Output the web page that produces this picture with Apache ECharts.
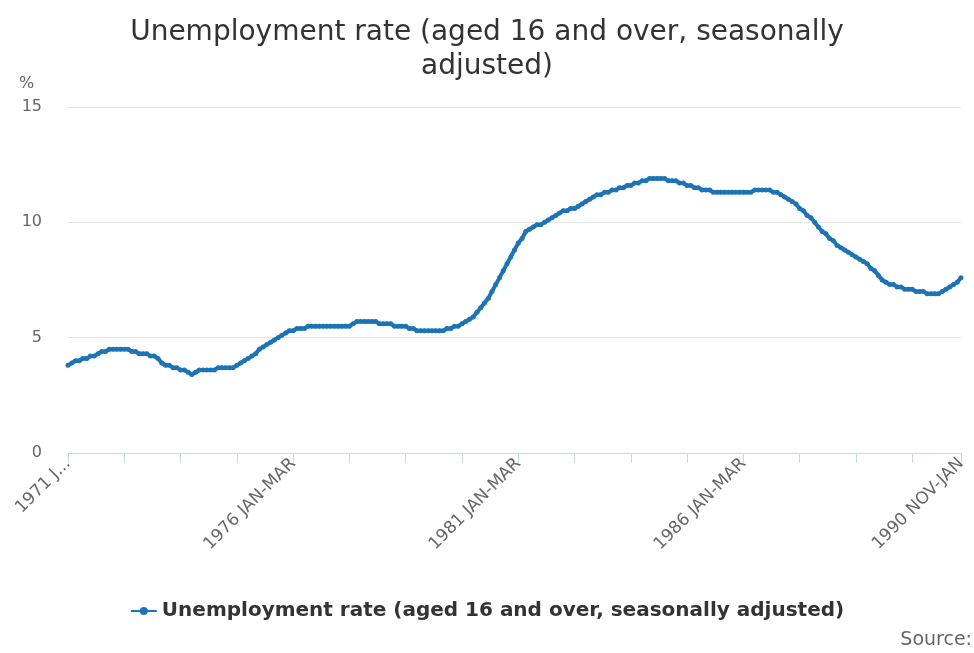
<!DOCTYPE html>
<html>
<head>
<meta charset="utf-8">
<script src="https://cdn.jsdelivr.net/npm/echarts@6/dist/echarts.min.js"></script>
<style>
html,body{margin:0;padding:0;background:#fff;}
#chart{width:974px;height:653px;}
</style>
</head>
<body>
<div id="chart"></div>
<script>
const monthNames = ['JAN','FEB','MAR','APR','MAY','JUN','JUL','AUG','SEP','OCT','NOV','DEC'];
const startYear = 1971;
const pointCount = 239;
const categories = [];
for (let i = 0; i < pointCount; i++) {
  const m = i % 12;
  const y = startYear + Math.floor(i / 12);
  categories.push(y + ' ' + monthNames[m] + '-' + monthNames[(m + 2) % 12]);
}
const seriesName = 'Unemployment rate (aged 16 and over, seasonally adjusted)';
const unemploymentRate = [
  // 1971
  3.8, 3.9, 4.0, 4.0, 4.1, 4.1, 4.2, 4.2, 4.3, 4.4, 4.4, 4.5,
  // 1972
  4.5, 4.5, 4.5, 4.5, 4.5, 4.4, 4.4, 4.3, 4.3, 4.3, 4.2, 4.2,
  // 1973
  4.1, 3.9, 3.8, 3.8, 3.7, 3.7, 3.6, 3.6, 3.5, 3.4, 3.5, 3.6,
  // 1974
  3.6, 3.6, 3.6, 3.6, 3.7, 3.7, 3.7, 3.7, 3.7, 3.8, 3.9, 4.0,
  // 1975
  4.1, 4.2, 4.3, 4.5, 4.6, 4.7, 4.8, 4.9, 5.0, 5.1, 5.2, 5.3,
  // 1976
  5.3, 5.4, 5.4, 5.4, 5.5, 5.5, 5.5, 5.5, 5.5, 5.5, 5.5, 5.5,
  // 1977
  5.5, 5.5, 5.5, 5.5, 5.6, 5.7, 5.7, 5.7, 5.7, 5.7, 5.7, 5.6,
  // 1978
  5.6, 5.6, 5.6, 5.5, 5.5, 5.5, 5.5, 5.4, 5.4, 5.3, 5.3, 5.3,
  // 1979
  5.3, 5.3, 5.3, 5.3, 5.3, 5.4, 5.4, 5.5, 5.5, 5.6, 5.7, 5.8,
  // 1980
  5.9, 6.1, 6.3, 6.5, 6.7, 7.0, 7.3, 7.6, 7.9, 8.2, 8.5, 8.8,
  // 1981
  9.1, 9.3, 9.6, 9.7, 9.8, 9.9, 9.9, 10.0, 10.1, 10.2, 10.3, 10.4,
  // 1982
  10.5, 10.5, 10.6, 10.6, 10.7, 10.8, 10.9, 11.0, 11.1, 11.2, 11.2, 11.3,
  // 1983
  11.3, 11.4, 11.4, 11.5, 11.5, 11.6, 11.6, 11.7, 11.7, 11.8, 11.8, 11.9,
  // 1984
  11.9, 11.9, 11.9, 11.9, 11.8, 11.8, 11.8, 11.7, 11.7, 11.6, 11.6, 11.5,
  // 1985
  11.5, 11.4, 11.4, 11.4, 11.3, 11.3, 11.3, 11.3, 11.3, 11.3, 11.3, 11.3,
  // 1986
  11.3, 11.3, 11.3, 11.4, 11.4, 11.4, 11.4, 11.4, 11.3, 11.3, 11.2, 11.1,
  // 1987
  11.0, 10.9, 10.8, 10.6, 10.5, 10.3, 10.2, 10.0, 9.8, 9.6, 9.5, 9.3,
  // 1988
  9.2, 9.0, 8.9, 8.8, 8.7, 8.6, 8.5, 8.4, 8.3, 8.2, 8.0, 7.9,
  // 1989
  7.7, 7.5, 7.4, 7.3, 7.3, 7.2, 7.2, 7.1, 7.1, 7.1, 7.0, 7.0,
  // 1990
  7.0, 6.9, 6.9, 6.9, 6.9, 7.0, 7.1, 7.2, 7.3, 7.4, 7.6
];
const yTicks = [0, 5, 10, 15];

const chart = echarts.init(document.getElementById('chart'), null, {renderer: 'canvas'});
const lastIdx = categories.length - 1;
const lineColor = '#1d74b4';
chart.setOption({
  animation: false,
  backgroundColor: '#ffffff',
  textStyle: {fontFamily: 'DejaVu Sans'},
  title: {
    text: 'Unemployment rate (aged 16 and over, seasonally\nadjusted)',
    left: 'center',
    top: 11,
    textStyle: {fontFamily: 'DejaVu Sans', fontSize: 28, fontWeight: 'normal', color: '#333333', lineHeight: 34}
  },
  graphic: [
    {type: 'text', left: 19, top: 76, style: {text: '%', fill: '#666666', font: '16px "DejaVu Sans"'}},
    {type: 'text', right: 2, top: 631, style: {text: 'Source:', fill: '#666666', font: '19px "DejaVu Sans"'}}
  ],
  legend: {
    bottom: 27,
    left: 'center',
    itemWidth: 26,
    itemHeight: 10,
    itemGap: 8,
    textStyle: {fontFamily: 'DejaVu Sans', fontSize: 20, fontWeight: 'bold', color: '#333333'},
    data: [seriesName]
  },
  grid: {left: 68, right: 13, top: 107, bottom: 200, containLabel: false},
  xAxis: {
    type: 'category',
    boundaryGap: false,
    data: categories,
    axisLine: {lineStyle: {color: '#ccd6eb', width: 1}},
    axisTick: {
      show: true,
      length: 10,
      lineStyle: {color: '#ccd6eb'},
      interval: function (index) { return index % 15 === 0 || index === lastIdx; }
    },
    axisLabel: {
      rotate: 45,
      color: '#666666',
      fontSize: 17,
      margin: 8,
      interval: function (index) { return index % 60 === 0 || index === lastIdx; },
      formatter: function (value, index) { return index === 0 ? '1971 J...' : value; }
    },
    splitLine: {show: false}
  },
  yAxis: {
    type: 'value',
    min: yTicks[0],
    max: yTicks[yTicks.length - 1],
    interval: 5,
    axisLine: {show: false},
    axisTick: {show: false},
    axisLabel: {color: '#666666', fontSize: 16, margin: 26},
    splitLine: {lineStyle: {color: '#e6e6e6', width: 1}}
  },
  series: [{
    name: seriesName,
    type: 'line',
    data: unemploymentRate,
    color: lineColor,
    lineStyle: {width: 4, color: lineColor},
    symbol: 'circle',
    symbolSize: 5,
    showSymbol: true,
    showAllSymbol: true,
    itemStyle: {color: lineColor}
  }]
});
</script>
</body>
</html>
